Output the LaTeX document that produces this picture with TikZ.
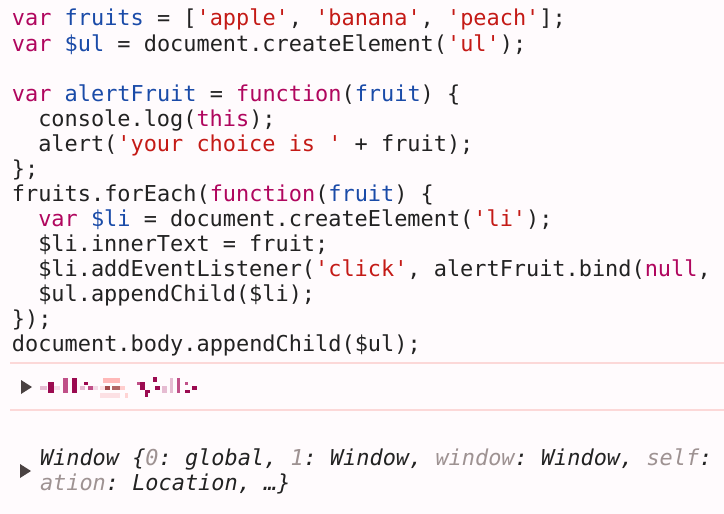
\documentclass[tikz,border=0pt]{standalone}
\usepackage{fontspec}
\setmonofont{DejaVu Sans Mono}
\definecolor{bgc}{HTML}{FFFBFD}
\definecolor{kwc}{HTML}{B0065E}
\definecolor{stc}{HTML}{C41A16}
\definecolor{vrc}{HTML}{1A4BA8}
\definecolor{txc}{HTML}{222222}
\definecolor{gyc}{HTML}{9E9292}
\definecolor{sepc}{HTML}{FCD8D8}
\definecolor{tric}{HTML}{4A4242}
\definecolor{pxd}{HTML}{9B0A50}
\definecolor{pxm}{HTML}{C05088}
\definecolor{pxl}{HTML}{E6BCD2}
\definecolor{pxv}{HTML}{F4DCE8}
\definecolor{pxs}{HTML}{FFB8B8}
\definecolor{pxb}{HTML}{A34A4A}
\definecolor{pxp}{HTML}{FCE0E4}
\newcommand\kw[1]{\textcolor{kwc}{#1}}
\newcommand\st[1]{\textcolor{stc}{#1}}
\newcommand\vr[1]{\textcolor{vrc}{#1}}
\newcommand\gy[1]{\textcolor{gyc}{#1}}
\tikzset{
  code/.style={anchor=base west, inner sep=0pt, outer sep=0pt, text=txc,
    font=\fontsize{21.9pt}{25pt}\selectfont\ttfamily\frenchspacing},
  outp/.style={code, font=\fontsize{21.9pt}{25pt}\selectfont\ttfamily\itshape\frenchspacing},
  sepline/.style={draw=sepc, line width=2pt},
  expander/.style={fill=tric},
}
\begin{document}
\begin{tikzpicture}[x=1pt,y=-1pt]
\fill[bgc] (0,0) rectangle (724,514);
\useasboundingbox (0,0) rectangle (724,514);
% source echo
\node[code] (l1) at (12,26) {\kw{var} \vr{fruits} = [\st{'apple'}, \st{'banana'}, \st{'peach'}];};
\node[code] (l2) at (12,51) {\kw{var} \vr{\$ul} = document.createElement(\st{'ul'});};
\node[code] (l4) at (12,101) {\kw{var} \vr{alertFruit} = \kw{function}(\vr{fruit}) \{};
\node[code] (l5) at (38.3,126) {console.log(\kw{this});};
\node[code] (l6) at (38.3,151) {alert(\st{'your choice is '} + fruit);};
\node[code] (l7) at (12,176) {\};};
\node[code] (l8) at (12,201) {fruits.forEach(\kw{function}(\vr{fruit}) \{};
\node[code] (l9) at (38.3,226) {\kw{var} \vr{\$li} = document.createElement(\st{'li'});};
\node[code] (l10) at (38.3,251) {\$li.innerText = fruit;};
\node[code] (l11) at (38.3,276) {\$li.addEventListener(\st{'click'}, alertFruit.bind(\kw{null},};
\node[code] (l12) at (38.3,301) {\$ul.appendChild(\$li);};
\node[code] (l13) at (12,326) {\});};
\node[code] (l14) at (12,351) {document.body.appendChild(\$ul);};
% separators
\draw[sepline] (10,363) -- (724,363);
\draw[sepline] (10,410) -- (724,410);
% first console row: expander + pixelated element
\fill[expander] (21,380) -- (21,394) -- (32,387) -- cycle;
\fill[pxl] (40,386) rectangle (46.7,390);
\fill[pxd] (47.7,381.7) rectangle (54.3,393.3);
\fill[pxv] (54.3,386) rectangle (60,390);
\fill[pxm] (63.3,378.3) rectangle (68.3,393.3);
\fill[pxd] (71.7,378.3) rectangle (76.7,393.3);
\fill[pxl] (80,386) rectangle (85,390);
\fill[pxd] (84,381.7) rectangle (88.3,385);
\fill[pxm] (88.3,386) rectangle (93.3,390);
\fill[pxv] (93.3,386) rectangle (98.3,390);
\fill[pxs] (103.3,378.3) rectangle (120,383.3);
\fill[pxp] (100,386) rectangle (105,390);
\fill[pxb] (105,386) rectangle (110,390);
\fill[pxb!85!white] (111.7,386) rectangle (120,390);
\fill[pxs!70!white] (120,386) rectangle (125,390);
\fill[pxp] (100,393.3) rectangle (120,398.3);
\fill[pxs!60!white] (125,393.3) rectangle (128.3,398.3);
\fill[pxm] (136.7,381.7) rectangle (141.7,385);
\fill[pxd] (140,381.7) rectangle (145,390);
\fill[pxd] (145,390) rectangle (150,393.3);
\fill[pxd] (145,393.3) rectangle (148.3,397.3);
\fill[pxd] (153.3,377.3) rectangle (156.7,381.7);
\fill[pxd] (155,386) rectangle (160,390);
\fill[pxl] (161.7,386) rectangle (166.7,393.3);
\fill[pxl] (170,378.3) rectangle (173.3,393.3);
\fill[pxm] (176.7,378.3) rectangle (180,393.3);
\fill[pxm] (185,381.7) rectangle (188.3,385);
\fill[pxd] (185,390) rectangle (190,393.3);
\fill[pxd] (191.7,386) rectangle (196.7,390);
% second console row
\fill[expander] (20,464) -- (20,478) -- (31,471) -- cycle;
\node[outp] (w1) at (40,465) {Window \{\gy{0}: global, \gy{1}: Window, \gy{window}: Window, \gy{self}:};
\node[outp] (w2) at (40,490) {\gy{ation}: Location, …\}};
\end{tikzpicture}
\end{document}
